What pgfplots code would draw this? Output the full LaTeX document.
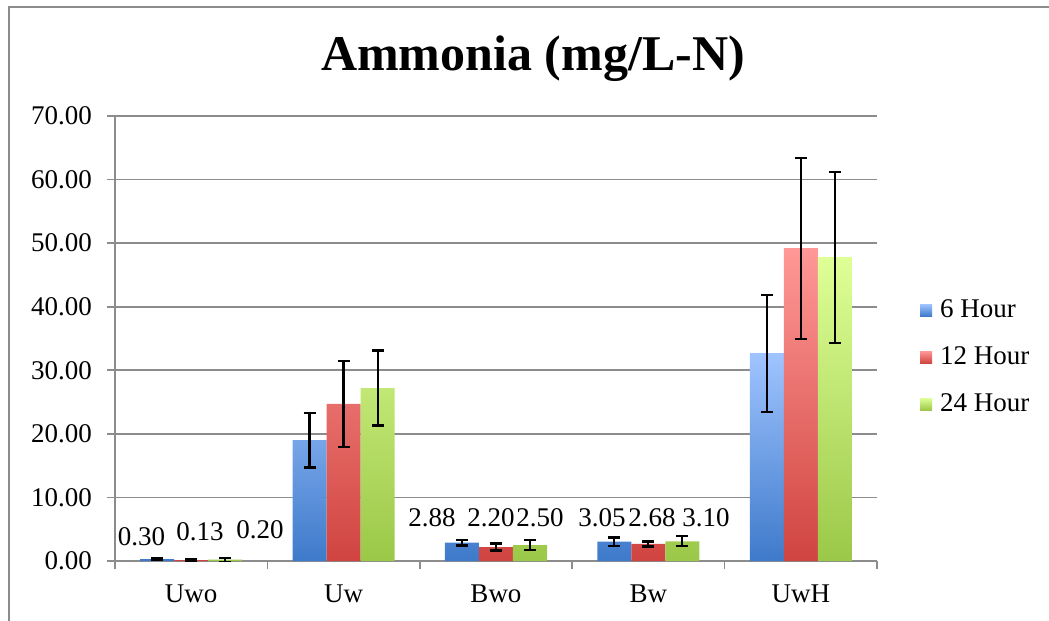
\documentclass[border=0pt]{standalone}
\usepackage{fontspec}
\setmainfont{Liberation Serif}
\usepackage{pgfplots}
\pgfplotsset{compat=1.18}
\usepackage{pgfplotstable}

\definecolor{gridc}{RGB}{140,140,140}
\definecolor{bT}{RGB}{160,196,255}
\definecolor{bB}{RGB}{62,122,202}
\definecolor{rT}{RGB}{255,152,150}
\definecolor{rB}{RGB}{208,68,64}
\definecolor{gT}{RGB}{222,255,150}
\definecolor{gB}{RGB}{155,200,72}
\newcommand\lab{\fontsize{13.5bp}{16bp}\selectfont}

\pgfplotstableread{
x y e
0 0.30 0.2
1 19.0 4.3
2 2.88 0.45
3 3.05 0.65
4 32.7 9.2
}\six
\pgfplotstableread{
x y e
0 0.13 0.1
1 24.7 6.8
2 2.20 0.55
3 2.68 0.40
4 49.2 14.25
}\twelve
\pgfplotstableread{
x y e
0 0.20 0.3
1 27.2 5.9
2 2.50 0.75
3 3.10 0.80
4 47.8 13.45
}\tfour
\pgfplotstableread{
x y label
-0.326 3.78 0.30
0.058 4.56 0.13
0.451 4.88 0.20
1.580 6.76 2.88
1.967 6.76 2.20
2.289 6.76 2.50
2.696 6.76 3.05
3.024 6.76 2.68
3.378 6.76 3.10
}\labs

\begin{document}
\begin{tikzpicture}
\useasboundingbox (0,0) rectangle (524.5bp,310.5bp);
\draw[gridc, line width=0.8bp] (4.5bp,-5bp) -- (4.5bp,307bp) -- (530bp,307bp);
\begin{axis}[
  at={(57.5bp,30bp)}, anchor=south west,
  scale only axis, width=381bp, height=222.5bp,
  xmin=-0.5, xmax=4.5, ymin=0, ymax=70,
  enlargelimits=false,
  ybar=0pt, bar width=17bp,
  axis x line*=bottom, axis y line*=left,
  axis line style={gridc, line width=0.8bp, -},
  tick align=outside,
  major tick length=4bp,
  tick style={gridc, line width=0.8bp},
  ytick={0,10,...,70},
  yticklabels={0.00,10.00,20.00,30.00,40.00,50.00,60.00,70.00},
  yticklabel style={font=\lab, xshift=-4bp},
  xtick={-0.5,0.5,...,4.5},
  xticklabels={,,,,,,},
  extra x ticks={0,1,2,3,4},
  extra x tick labels={Uwo,Uw,Bwo,Bw,UwH},
  extra x tick style={major tick length=0pt, tick style={draw=none},
     xticklabel style={font=\lab, yshift=-8.5bp}},
  ymajorgrids,
  major grid style={gridc, line width=0.8bp},
  title={Ammonia (mg/L-N)},
  title style={at={(0.5486,1.103)}, anchor=center,
     font=\bfseries\fontsize{25bp}{30bp}\selectfont},
  legend style={at={(1.056,0.458)}, anchor=west, draw=none, fill=none,
     font=\lab, row sep=10.5bp, inner sep=0pt,
     nodes={inner sep=0pt, text height=10bp, text depth=3bp},
     /tikz/every odd column/.append style={column sep=4bp}},
  legend cell align=left,
  legend image code/.code={\path[#1,draw=none] (0bp,-3bp) rectangle (6bp,3bp);},
  error bars/y dir=both, error bars/y explicit,
  error bars/error bar style={black, line width=1.1bp},
  error bars/error mark options={rotate=90, mark size=3bp, line width=1.1bp, black},
]
\addplot[draw=none, top color=bT, bottom color=bB]
  table[x=x, y=y, y error=e] {\six};
\addlegendentry{6 Hour}
\addplot[draw=none, top color=rT, bottom color=rB]
  table[x=x, y=y, y error=e] {\twelve};
\addlegendentry{12 Hour}
\addplot[draw=none, top color=gT, bottom color=gB]
  table[x=x, y=y, y error=e] {\tfour};
\addlegendentry{24 Hour}
\end{axis}
\begin{axis}[
  at={(57.5bp,30bp)}, anchor=south west,
  scale only axis, width=381bp, height=222.5bp,
  xmin=-0.5, xmax=4.5, ymin=0, ymax=70,
  enlargelimits=false, hide axis, clip=false,
]
\addplot[only marks, mark=none, draw=none,
  nodes near coords, point meta=explicit symbolic,
  nodes near coords style={anchor=center, font=\lab, inner sep=0pt}]
  table[x=x, y=y, meta=label] {\labs};
\end{axis}
\end{tikzpicture}
\end{document}
